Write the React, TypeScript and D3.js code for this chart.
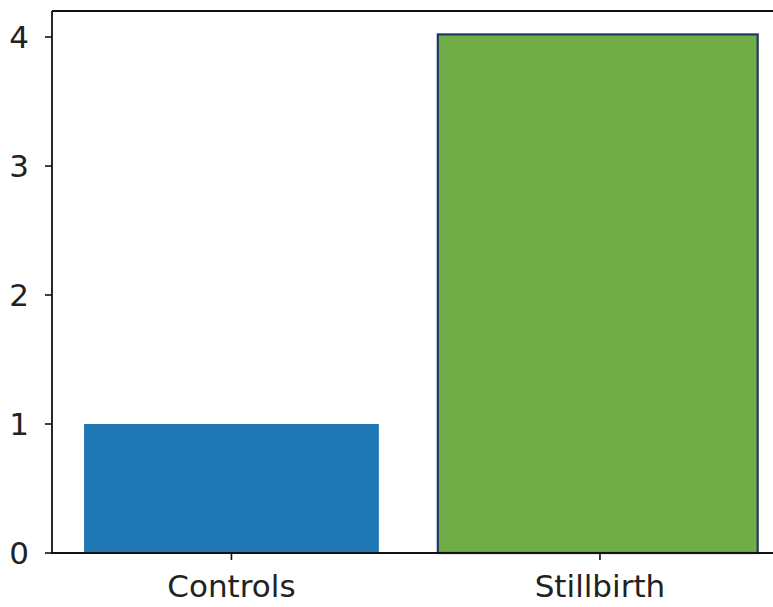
import React from "react";
import * as d3 from "d3";

const categories = ["Controls", "Stillbirth"];
const values = [1.0, 4.02];
const yTicks = [0, 1, 2, 3, 4];

const W = 773;
const H = 607;
const FS = 31;

export default function App() {
  const left = 52;
  const top = 11;
  const bottom = 553;
  const x = d3.scaleLinear().domain([-0.487, 1.49]).range([left, left + 1.977 * 368.5]);
  const y = d3.scaleLinear().domain([0, 4]).range([bottom, bottom - 4 * 129]);
  const widths = [0.8, 0.868];
  const offsets = [0, -0.006];
  const fills = ["#1f77b4", "#70ad47"];
  const strokes = ["none", "#1f3864"];
  return (
    <svg
      width={W}
      height={H}
      style={{ position: "absolute", left: 0, top: 0, background: "#fff" }}
      fontFamily="DejaVu Sans"
    >
      {categories.map((c, i) => {
        const x0 = x(i + offsets[i] - widths[i] / 2);
        const x1 = x(i + offsets[i] + widths[i] / 2);
        return (
          <rect
            key={c}
            x={x0}
            y={y(values[i])}
            width={x1 - x0}
            height={y(0) - y(values[i])}
            fill={fills[i]}
            stroke={strokes[i]}
            strokeWidth={2.2}
          />
        );
      })}
      <line x1={left} x2={W} y1={top} y2={top} stroke="#111" strokeWidth={1.8} />
      <line x1={left} x2={left} y1={top} y2={bottom} stroke="#111" strokeWidth={1.8} />
      <line x1={left - 0.9} x2={W} y1={bottom} y2={bottom} stroke="#111" strokeWidth={1.8} />
      {yTicks.map((t) => (
        <g key={t}>
          <line x1={left - 7} x2={left} y1={y(t)} y2={y(t)} stroke="#111" strokeWidth={1.6} />
          <text x={left - 23} y={y(t) + 0.365 * FS} fontSize={FS} textAnchor="end" fill="#222">
            {t}
          </text>
        </g>
      ))}
      {categories.map((c, i) => (
        <g key={c}>
          <line x1={x(i)} x2={x(i)} y1={bottom} y2={bottom + 7} stroke="#111" strokeWidth={1.6} />
          <text x={x(i)} y={bottom + 44} fontSize={FS} textAnchor="middle" fill="#222">
            {c}
          </text>
        </g>
      ))}
    </svg>
  );
}
